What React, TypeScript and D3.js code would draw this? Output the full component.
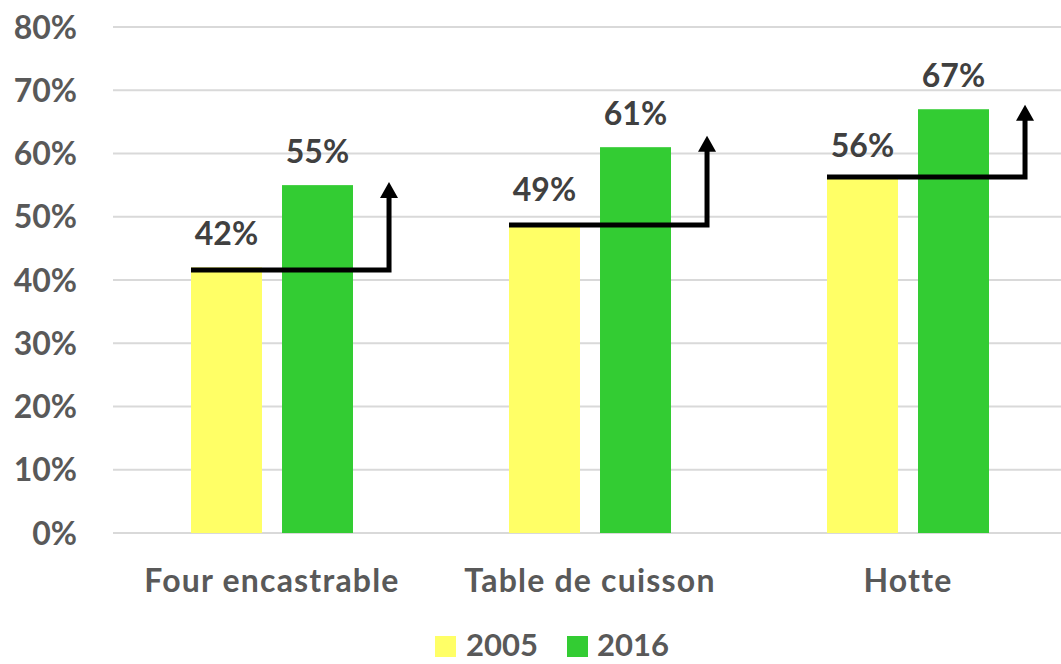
import React from "react";
import * as d3 from "d3";

const categories = ["Four encastrable", "Table de cuisson", "Hotte"];
const series = ["2005", "2016"];
const values2005 = [42, 49, 56];
const values2016 = [55, 61, 67];
const labels2005 = ["42%", "49%", "56%"];
const labels2016 = ["55%", "61%", "67%"];
const arrowBase = [41.6, 48.7, 56.3];
const arrowTip = [55.5, 62.8, 67.7];
const yTicks = [0, 10, 20, 30, 40, 50, 60, 70, 80];
const colors = ["#ffff66", "#33cc33"];

const W = 1061;
const H = 664;
const FONT = "Lato, 'Open Sans', sans-serif";

export default function App() {
  React.useEffect(() => {
    document.body.style.margin = "0";
  }, []);
  const y = d3.scaleLinear().domain([0, 80]).range([533, 27]);
  const x0 = d3.scaleBand().domain(categories).range([113, 1067]).padding(0);
  const x1 = d3
    .scaleBand()
    .domain(series)
    .range([78, x0.bandwidth() - 78])
    .paddingInner(0.22)
    .paddingOuter(0);
  const vals = [values2005, values2016];
  const labs = [labels2005, labels2016];

  return (
    <svg width={W} height={H} style={{ display: "block" }}>
      <rect width={W} height={H} fill="#fff" />
      {yTicks.map((t) => (
        <g key={t}>
          <line x1={113} x2={W} y1={y(t)} y2={y(t)} stroke="#d9d9d9" strokeWidth={2} />
          <text
            x={77}
            y={y(t)}
            dy="0.36em"
            textAnchor="end"
            fontFamily={FONT}
            fontWeight="bold"
            fontSize={32}
            fill="#595959"
          >
            {t}%
          </text>
        </g>
      ))}
      {categories.map((c, i) => (
        <g key={c} transform={`translate(${x0(c)},0)`}>
          {series.map((s, j) => (
            <rect
              key={s}
              x={x1(s)}
              y={y(vals[j][i])}
              width={x1.bandwidth()}
              height={y(0) - y(vals[j][i])}
              fill={colors[j]}
            />
          ))}
          {series.map((s, j) => (
            <text
              key={"l" + s}
              x={(x1(s) as number) + x1.bandwidth() / 2}
              y={y(vals[j][i]) - 22}
              textAnchor="middle"
              fontFamily={FONT}
              fontWeight="bold"
              fontSize={32}
              fill="#404040"
            >
              {labs[j][i]}
            </text>
          ))}
          <path
            d={`M${x1("2005")},${y(arrowBase[i])}H${x0.bandwidth() * 0.868}V${y(arrowTip[i]) + 14}`}
            fill="none"
            stroke="#000"
            strokeWidth={5}
          />
          <path
            d={`M${x0.bandwidth() * 0.868},${y(arrowTip[i])}l9,16h-18z`}
            fill="#000"
          />
          <text
            x={x0.bandwidth() / 2}
            y={592}
            textAnchor="middle"
            fontFamily={FONT}
            fontWeight="bold"
            fontSize={32}
            letterSpacing={1.2}
            fill="#595959"
          >
            {c}
          </text>
        </g>
      ))}
      <g>
        <rect x={435} y={636} width={21} height={21} fill={colors[0]} />
        <text x={466} y={656} fontFamily={FONT} fontWeight="bold" fontSize={31} fill="#595959">
          {series[0]}
        </text>
        <rect x={567} y={636} width={21} height={21} fill={colors[1]} />
        <text x={597} y={656} fontFamily={FONT} fontWeight="bold" fontSize={31} fill="#595959">
          {series[1]}
        </text>
      </g>
    </svg>
  );
}
